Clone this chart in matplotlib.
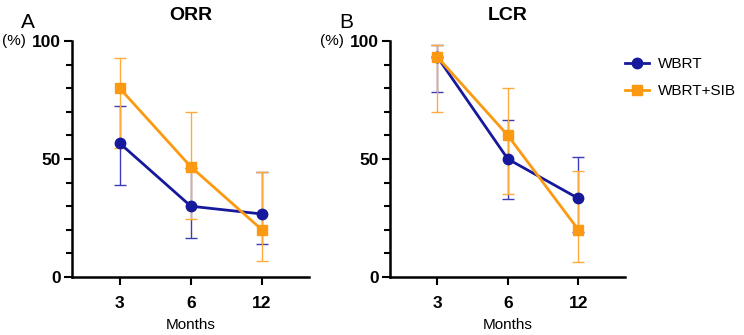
import matplotlib.pyplot as plt
from matplotlib.lines import Line2D
import numpy as np

plt.rcParams['font.family'] = ['Liberation Sans', 'DejaVu Sans']

months = ['3', '6', '12']

# ORR (%)
orr_wbrt = [56.7, 30.0, 26.7]
orr_wbrt_lo = [39.0, 16.7, 13.8]
orr_wbrt_hi = [72.5, 46.0, 44.5]
orr_sib = [80.0, 46.7, 20.0]
orr_sib_lo = [54.5, 24.6, 6.8]
orr_sib_hi = [93.0, 69.8, 44.5]

# LCR (%)
lcr_wbrt = [93.3, 50.0, 33.3]
lcr_wbrt_lo = [78.5, 33.0, 19.0]
lcr_wbrt_hi = [98.3, 66.7, 51.0]
lcr_sib = [93.3, 60.0, 20.0]
lcr_sib_lo = [69.8, 35.0, 6.5]
lcr_sib_hi = [98.3, 80.0, 44.8]

blue = '#16199b'
blue_err = '#3a3db3'
orange = '#fb9a12'
orange_err = '#ffab3c'

fig = plt.figure(figsize=(7.44, 3.35), dpi=100)
axA = fig.add_axes([0.0968, 0.1731, 0.3185, 0.7045])
axB = fig.add_axes([0.5242, 0.1731, 0.3158, 0.7045])


def draw(ax, wb, wb_lo, wb_hi, sb, sb_lo, sb_hi, title, letter):
    x = np.arange(len(months))
    wb, sb = np.array(wb), np.array(sb)
    ax.errorbar(x, wb, yerr=[wb - np.array(wb_lo), np.array(wb_hi) - wb],
                fmt='none', ecolor=blue_err, elinewidth=1, capsize=4, capthick=1, zorder=2)
    ax.errorbar(x, sb, yerr=[sb - np.array(sb_lo), np.array(sb_hi) - sb],
                fmt='none', ecolor=orange_err, elinewidth=1, capsize=4, capthick=1, zorder=3)
    ax.plot(x, wb, color=blue, lw=2, marker='o', ms=7.5, zorder=4)
    ax.plot(x, sb, color=orange, lw=2, marker='s', ms=7, zorder=5)

    ax.set_xlim(-0.67, 2.66)
    ax.set_ylim(0, 100)
    ax.set_xticks(x)
    ax.set_xticklabels(months, fontsize=12.5, fontweight='bold')
    ax.set_yticks([0, 50, 100])
    ax.set_yticklabels(['0', '50', '100'], fontsize=12.5, fontweight='bold')
    ax.set_yticks(np.arange(0, 101, 10), minor=True)
    ax.tick_params(axis='both', which='major', length=6, width=1.5, pad=2)
    ax.tick_params(axis='x', pad=8)
    ax.tick_params(axis='y', which='minor', length=4, width=1.5)
    for s in ['top', 'right']:
        ax.spines[s].set_visible(False)
    for s in ['left', 'bottom']:
        ax.spines[s].set_linewidth(1.8)
    ax.set_xlabel('Months', fontsize=11, labelpad=5)
    ax.set_title(title, fontsize=14, fontweight='bold', pad=15)
    ax.text(-0.215, 1.055, letter, transform=ax.transAxes, fontsize=15)
    ax.text(-0.195, 1.0, '(%)', transform=ax.transAxes, fontsize=11,
            ha='right', va='center')


draw(axA, orr_wbrt, orr_wbrt_lo, orr_wbrt_hi, orr_sib, orr_sib_lo, orr_sib_hi, 'ORR', 'A')
draw(axB, lcr_wbrt, lcr_wbrt_lo, lcr_wbrt_hi, lcr_sib, lcr_sib_lo, lcr_sib_hi, 'LCR', 'B')

handles = [Line2D([], [], color=blue, lw=2, marker='o', ms=7.5),
           Line2D([], [], color=orange, lw=2, marker='s', ms=7)]
fig.legend(handles, ['WBRT', 'WBRT+SIB'], loc='upper left',
           bbox_to_anchor=(0.84, 0.83), frameon=False, fontsize=11,
           handlelength=1.6, handletextpad=0.55, labelspacing=0.85,
           borderpad=0, borderaxespad=0)

fig.savefig('out.png', dpi=100)
